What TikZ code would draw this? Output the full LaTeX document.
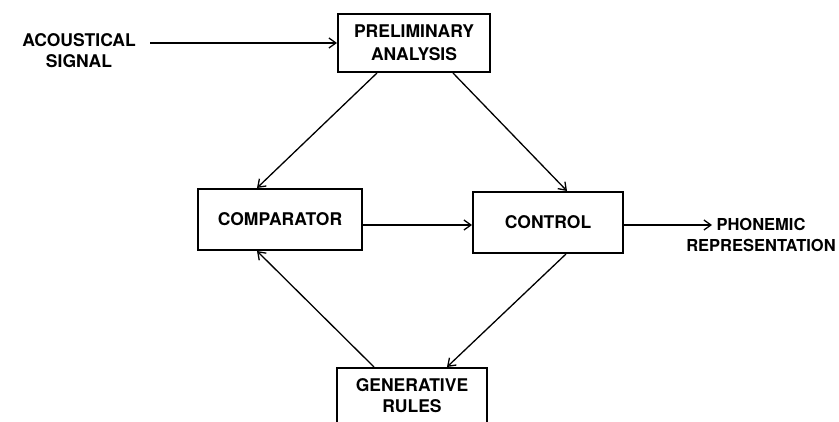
\documentclass[tikz,border=0pt]{standalone}
\usepackage{fontspec}
\setmainfont{TeX Gyre Heros}
\usetikzlibrary{arrows.meta,calc}
\begin{document}
\begin{tikzpicture}[x=1pt,y=-1pt,
  box/.style={draw,line width=2pt,inner sep=0pt,align=center,font=\fontsize{17.5}{23}\selectfont\bfseries},
  lbl/.style={inner sep=0pt,align=center,font=\fontsize{17.5}{21}\selectfont\bfseries},
  conn/.style={line width=1.3pt,-{Straight Barb[length=7pt,width=10pt,line width=1.3pt]}}]
\useasboundingbox (0,0) rectangle (839,422);
\clip (0,0) rectangle (839,422);
\node[box,minimum width=152pt,minimum height=58pt] (prelim) at (414,43) {PRELIMINARY\\ANALYSIS};
\node[box,minimum width=164pt,minimum height=61pt] (comp) at (280,219.5) {COMPARATOR};
\node[box,minimum width=150pt,minimum height=61pt] (ctrl) at (548,222.5) {CONTROL};
\node[box,minimum width=150pt,minimum height=70pt] (gen) at (412,403) {};
\node[lbl] (gentxt) at (412,396) {GENERATIVE\\RULES};
\node[lbl] (acoust) at (79,51) {ACOUSTICAL\\SIGNAL};
\node[lbl,font=\fontsize{16.5}{21}\selectfont\bfseries] (phon) at (761,235) {PHONEMIC\\REPRESENTATION};
\coordinate (acend) at (150,43);
\coordinate (phstart) at (712,225);
\draw[conn] (acend) -- (prelim.west);
\draw[conn] ($(prelim.south west)+(40,0)$) -- ($(comp.north west)+(60,0)$);
\draw[conn] ($(prelim.south east)+(-38,0)$) -- ($(ctrl.north west)+(95,0)$);
\draw[conn] ($(comp.east)+(0,5.5)$) -- ($(ctrl.west)+(0,2.5)$);
\draw[conn] ($(ctrl.east)+(0,2.5)$) -- (phstart);
\draw[conn] ($(ctrl.south west)+(94,0)$) -- ($(gen.north west)+(111,0)$);
\draw[conn] ($(gen.north west)+(38,0)$) -- ($(comp.south west)+(60,0)$);
\end{tikzpicture}
\end{document}
